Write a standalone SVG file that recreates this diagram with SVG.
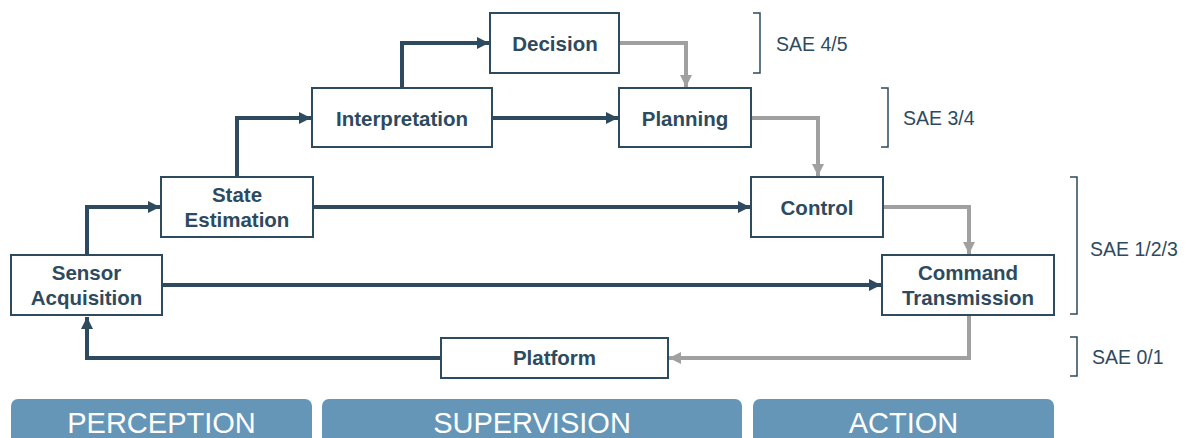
<svg xmlns="http://www.w3.org/2000/svg" width="1185" height="438" viewBox="0 0 1185 438">
<defs>
<style>
.box{fill:#fff;stroke:#2e4a5e;stroke-width:2}
.lbl{font-family:"Liberation Sans",Arial,sans-serif;font-weight:bold;font-size:20.5px;fill:#2e4a5e;text-anchor:middle}
.dark{fill:none;stroke:#2e4a5e;stroke-width:4}
.gray{fill:none;stroke:#a0a0a0;stroke-width:4}
.brk{fill:none;stroke:#2e4a5e;stroke-width:1.5}
.sae{font-family:"Liberation Sans",Arial,sans-serif;font-size:19.5px;fill:#2e4a5e}
.bar{fill:#6596b8}
.bartxt{font-family:"Liberation Sans",Arial,sans-serif;font-size:29px;fill:#fff;text-anchor:middle}
</style>
<marker id="ad" viewBox="0 0 10 10" refX="10" refY="5" markerWidth="3" markerHeight="3" markerUnits="strokeWidth" orient="auto"><path d="M0,0 L10,5 L0,10 z" fill="#2e4a5e"/></marker>
<marker id="ag" viewBox="0 0 10 10" refX="10" refY="5" markerWidth="3" markerHeight="3" markerUnits="strokeWidth" orient="auto"><path d="M0,0 L10,5 L0,10 z" fill="#a0a0a0"/></marker>
</defs>
<rect width="1185" height="438" fill="#fff"/>
<g id="connectors">
<path class="dark" d="M87,255 V207 H160" marker-end="url(#ad)"/>
<path class="dark" d="M237,177 V118 H311" marker-end="url(#ad)"/>
<path class="dark" d="M402,88 V43 H489" marker-end="url(#ad)"/>
<path class="dark" d="M492,118 H618" marker-end="url(#ad)"/>
<path class="dark" d="M313,207 H750" marker-end="url(#ad)"/>
<path class="dark" d="M162,285 H881" marker-end="url(#ad)"/>
<path class="dark" d="M441,358 H87 V317" marker-end="url(#ad)"/>
<path class="gray" d="M619,43 H686 V87" marker-end="url(#ag)"/>
<path class="gray" d="M751,118 H818 V176" marker-end="url(#ag)"/>
<path class="gray" d="M883,207 H969 V254" marker-end="url(#ag)"/>
<path class="gray" d="M969,316 V358 H669" marker-end="url(#ag)"/>
</g>
<g id="sensor"><rect class="box" x="11" y="255" width="151" height="60"/><text class="lbl" x="86.5" y="280">Sensor</text><text class="lbl" x="86.5" y="304.5">Acquisition</text></g>
<g id="state"><rect class="box" x="161" y="177" width="152" height="60"/><text class="lbl" x="237" y="201.5">State</text><text class="lbl" x="237" y="226.5">Estimation</text></g>
<g id="interpretation"><rect class="box" x="312" y="88" width="180" height="59"/><text class="lbl" x="402" y="125.5">Interpretation</text></g>
<g id="decision"><rect class="box" x="490" y="13" width="129" height="60"/><text class="lbl" x="555" y="50.5">Decision</text></g>
<g id="planning"><rect class="box" x="619" y="88" width="132" height="59"/><text class="lbl" x="685" y="125.5">Planning</text></g>
<g id="control"><rect class="box" x="751" y="177" width="132" height="60"/><text class="lbl" x="817" y="214.5">Control</text></g>
<g id="command"><rect class="box" x="882" y="255" width="172" height="60"/><text class="lbl" x="968" y="280">Command</text><text class="lbl" x="968" y="304.5">Transmission</text></g>
<g id="platform"><rect class="box" x="441" y="338" width="227" height="40"/><text class="lbl" x="554.5" y="365">Platform</text></g>
<g id="sae">
<path class="brk" d="M753,13 H760 V73 H753"/><text class="sae" x="776" y="50.5">SAE 4/5</text>
<path class="brk" d="M881,88 H888 V147 H881"/><text class="sae" x="903" y="124.5">SAE 3/4</text>
<path class="brk" d="M1070,177 H1077 V314 H1070"/><text class="sae" x="1090" y="255.5">SAE 1/2/3</text>
<path class="brk" d="M1070,337 H1077 V376 H1070"/><text class="sae" x="1092" y="364">SAE 0/1</text>
</g>
<g id="phases">
<rect class="bar" x="11" y="399" width="301" height="60" rx="7"/><text class="bartxt" x="161.5" y="433">PERCEPTION</text>
<rect class="bar" x="322" y="399" width="420" height="60" rx="7"/><text class="bartxt" x="532" y="433">SUPERVISION</text>
<rect class="bar" x="753" y="399" width="301" height="60" rx="7"/><text class="bartxt" x="903.5" y="433">ACTION</text>
</g>
</svg>
